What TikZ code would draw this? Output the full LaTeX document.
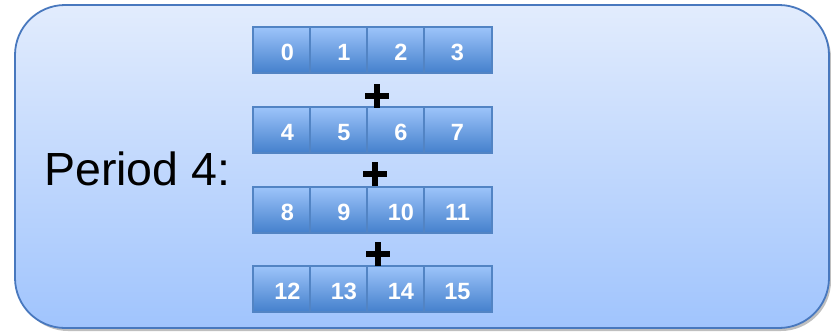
\documentclass[tikz,border=0pt]{standalone}
\usepackage{fontspec}
\setmainfont{Liberation Sans}
\definecolor{outerborder}{RGB}{72,120,190}
\definecolor{outertop}{RGB}{226,236,253}
\definecolor{outerbot}{RGB}{160,196,253}
\definecolor{celltop}{RGB}{157,196,250}
\definecolor{cellbot}{RGB}{68,128,204}
\definecolor{cellborder}{RGB}{82,132,196}
\tikzset{
  outerbox/.style={draw=outerborder, line width=1.8pt, rounded corners=50pt,
    top color=outertop, bottom color=outerbot},
  cellbox/.style={draw=cellborder, line width=1.2pt, top color=celltop, bottom color=cellbot},
  digit/.style={text=white, font=\fontsize{23.5}{26}\selectfont\bfseries, inner sep=0pt, anchor=base},
  plussign/.style={minimum width=24pt, minimum height=24pt, inner sep=0pt,
    path picture={\fill[black] ([xshift=-3.2pt]path picture bounding box.south) rectangle ([xshift=3.2pt]path picture bounding box.north);
      \fill[black] ([yshift=-3.2pt]path picture bounding box.west) rectangle ([yshift=3.2pt]path picture bounding box.east);}},
}
\begin{document}
\begin{tikzpicture}[x=1pt,y=-1pt]
\useasboundingbox (0,0) rectangle (831,332);
\fill[black!25, rounded corners=50pt] (18,8) rectangle (831,331);
\path[outerbox] (15,5) rectangle (829,328);
\node[anchor=base west, inner sep=0pt, font=\fontsize{46.5}{50}\selectfont] (label) at (44,185) {Period 4:};
\foreach \r/\ty in {0/27,1/107,2/187,3/266}{
  \foreach \c/\xa/\xb/\tx in {0/253/310/287.5,1/310/367/344,2/367/424/401,3/424/492/457.5}{
    \pgfmathtruncatemacro{\n}{4*\r+\c}
    \path[cellbox] (\xa,\ty) rectangle (\xb,\ty+46) node[midway, inner sep=0pt] (cell\n) {};
    \node[digit] (d\n) at (\tx,\ty+33) {\n};
  }
}
\node[plussign] (p1) at (377,96) {};
\node[plussign] (p2) at (375,174) {};
\node[plussign] (p3) at (378,254) {};
\end{tikzpicture}
\end{document}
